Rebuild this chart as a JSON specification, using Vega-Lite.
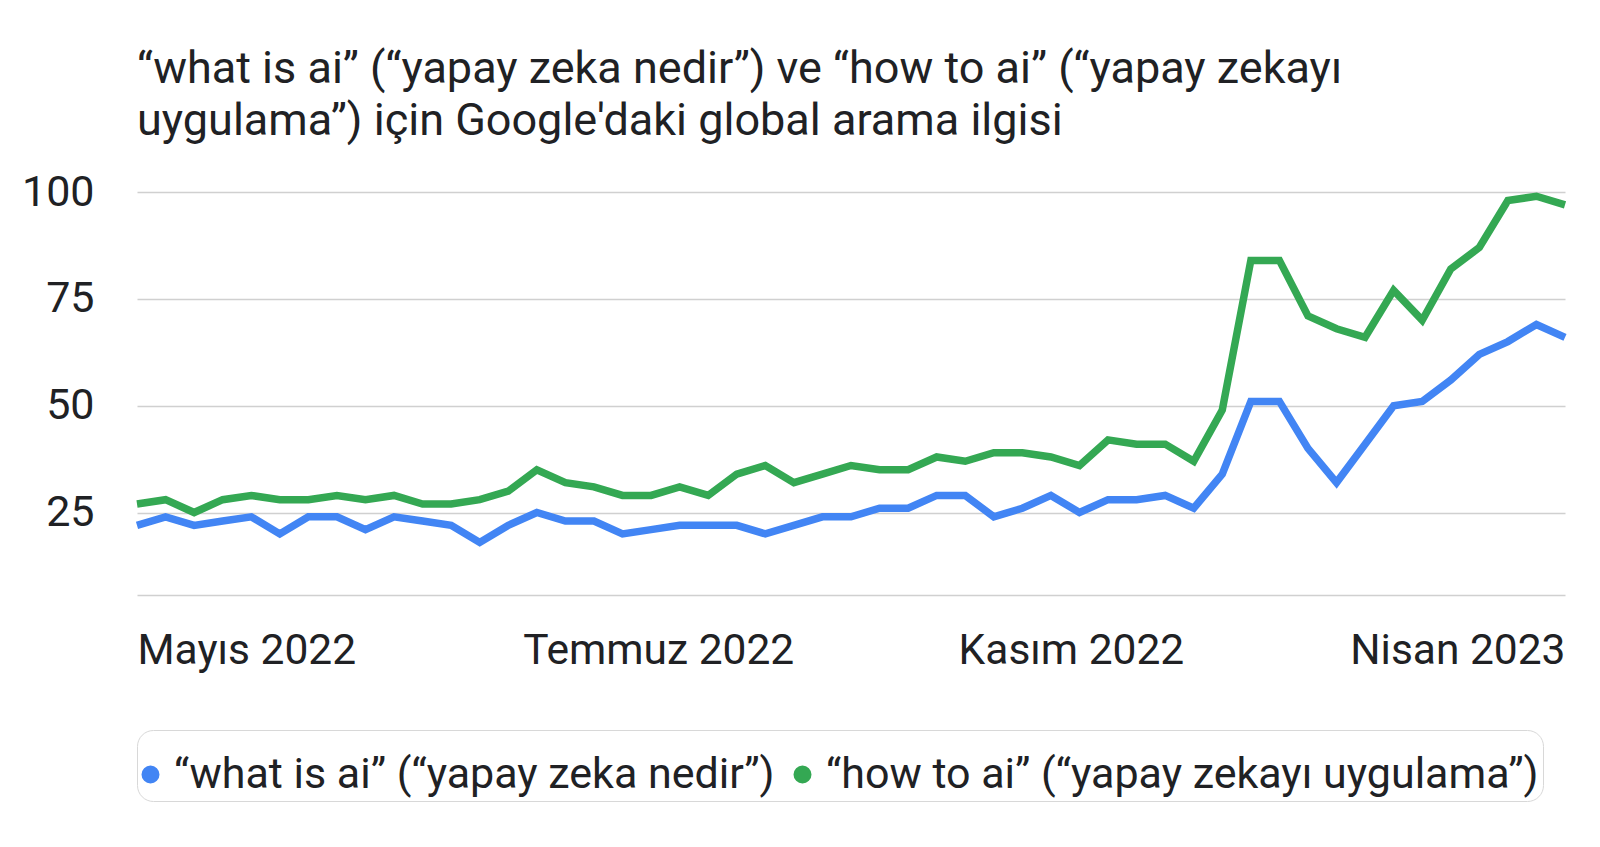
{
  "$schema": "https://vega.github.io/schema/vega-lite/v6.json",
  "autosize": {"type": "none"},
  "width": 1428,
  "height": 403,
  "padding": {"left": 137, "top": 192, "right": 35, "bottom": 252},
  "background": "white",
  "config": {
    "font": "Roboto",
    "view": {"stroke": null}
  },
  "title": {
    "text": ["“what is ai” (“yapay zeka nedir”) ve “how to ai” (“yapay zekayı", "uygulama”) için Google'daki global arama ilgisi"],
    "anchor": "start",
    "frame": "group",
    "font": "Roboto",
    "fontSize": 45,
    "fontWeight": "normal",
    "color": "#202124",
    "lineHeight": 52,
    "baseline": "bottom",
    "offset": -18
  },
  "data": {
    "values": [
      {"hafta": 0, "seri": "“what is ai” (“yapay zeka nedir”)", "ilgi": 22},
      {"hafta": 1, "seri": "“what is ai” (“yapay zeka nedir”)", "ilgi": 24},
      {"hafta": 2, "seri": "“what is ai” (“yapay zeka nedir”)", "ilgi": 22},
      {"hafta": 3, "seri": "“what is ai” (“yapay zeka nedir”)", "ilgi": 23},
      {"hafta": 4, "seri": "“what is ai” (“yapay zeka nedir”)", "ilgi": 24},
      {"hafta": 5, "seri": "“what is ai” (“yapay zeka nedir”)", "ilgi": 20},
      {"hafta": 6, "seri": "“what is ai” (“yapay zeka nedir”)", "ilgi": 24},
      {"hafta": 7, "seri": "“what is ai” (“yapay zeka nedir”)", "ilgi": 24},
      {"hafta": 8, "seri": "“what is ai” (“yapay zeka nedir”)", "ilgi": 21},
      {"hafta": 9, "seri": "“what is ai” (“yapay zeka nedir”)", "ilgi": 24},
      {"hafta": 10, "seri": "“what is ai” (“yapay zeka nedir”)", "ilgi": 23},
      {"hafta": 11, "seri": "“what is ai” (“yapay zeka nedir”)", "ilgi": 22},
      {"hafta": 12, "seri": "“what is ai” (“yapay zeka nedir”)", "ilgi": 18},
      {"hafta": 13, "seri": "“what is ai” (“yapay zeka nedir”)", "ilgi": 22},
      {"hafta": 14, "seri": "“what is ai” (“yapay zeka nedir”)", "ilgi": 25},
      {"hafta": 15, "seri": "“what is ai” (“yapay zeka nedir”)", "ilgi": 23},
      {"hafta": 16, "seri": "“what is ai” (“yapay zeka nedir”)", "ilgi": 23},
      {"hafta": 17, "seri": "“what is ai” (“yapay zeka nedir”)", "ilgi": 20},
      {"hafta": 18, "seri": "“what is ai” (“yapay zeka nedir”)", "ilgi": 21},
      {"hafta": 19, "seri": "“what is ai” (“yapay zeka nedir”)", "ilgi": 22},
      {"hafta": 20, "seri": "“what is ai” (“yapay zeka nedir”)", "ilgi": 22},
      {"hafta": 21, "seri": "“what is ai” (“yapay zeka nedir”)", "ilgi": 22},
      {"hafta": 22, "seri": "“what is ai” (“yapay zeka nedir”)", "ilgi": 20},
      {"hafta": 23, "seri": "“what is ai” (“yapay zeka nedir”)", "ilgi": 22},
      {"hafta": 24, "seri": "“what is ai” (“yapay zeka nedir”)", "ilgi": 24},
      {"hafta": 25, "seri": "“what is ai” (“yapay zeka nedir”)", "ilgi": 24},
      {"hafta": 26, "seri": "“what is ai” (“yapay zeka nedir”)", "ilgi": 26},
      {"hafta": 27, "seri": "“what is ai” (“yapay zeka nedir”)", "ilgi": 26},
      {"hafta": 28, "seri": "“what is ai” (“yapay zeka nedir”)", "ilgi": 29},
      {"hafta": 29, "seri": "“what is ai” (“yapay zeka nedir”)", "ilgi": 29},
      {"hafta": 30, "seri": "“what is ai” (“yapay zeka nedir”)", "ilgi": 24},
      {"hafta": 31, "seri": "“what is ai” (“yapay zeka nedir”)", "ilgi": 26},
      {"hafta": 32, "seri": "“what is ai” (“yapay zeka nedir”)", "ilgi": 29},
      {"hafta": 33, "seri": "“what is ai” (“yapay zeka nedir”)", "ilgi": 25},
      {"hafta": 34, "seri": "“what is ai” (“yapay zeka nedir”)", "ilgi": 28},
      {"hafta": 35, "seri": "“what is ai” (“yapay zeka nedir”)", "ilgi": 28},
      {"hafta": 36, "seri": "“what is ai” (“yapay zeka nedir”)", "ilgi": 29},
      {"hafta": 37, "seri": "“what is ai” (“yapay zeka nedir”)", "ilgi": 26},
      {"hafta": 38, "seri": "“what is ai” (“yapay zeka nedir”)", "ilgi": 34},
      {"hafta": 39, "seri": "“what is ai” (“yapay zeka nedir”)", "ilgi": 51},
      {"hafta": 40, "seri": "“what is ai” (“yapay zeka nedir”)", "ilgi": 51},
      {"hafta": 41, "seri": "“what is ai” (“yapay zeka nedir”)", "ilgi": 40},
      {"hafta": 42, "seri": "“what is ai” (“yapay zeka nedir”)", "ilgi": 32},
      {"hafta": 43, "seri": "“what is ai” (“yapay zeka nedir”)", "ilgi": 41},
      {"hafta": 44, "seri": "“what is ai” (“yapay zeka nedir”)", "ilgi": 50},
      {"hafta": 45, "seri": "“what is ai” (“yapay zeka nedir”)", "ilgi": 51},
      {"hafta": 46, "seri": "“what is ai” (“yapay zeka nedir”)", "ilgi": 56},
      {"hafta": 47, "seri": "“what is ai” (“yapay zeka nedir”)", "ilgi": 62},
      {"hafta": 48, "seri": "“what is ai” (“yapay zeka nedir”)", "ilgi": 65},
      {"hafta": 49, "seri": "“what is ai” (“yapay zeka nedir”)", "ilgi": 69},
      {"hafta": 50, "seri": "“what is ai” (“yapay zeka nedir”)", "ilgi": 66},
      {"hafta": 0, "seri": "“how to ai” (“yapay zekayı uygulama”)", "ilgi": 27},
      {"hafta": 1, "seri": "“how to ai” (“yapay zekayı uygulama”)", "ilgi": 28},
      {"hafta": 2, "seri": "“how to ai” (“yapay zekayı uygulama”)", "ilgi": 25},
      {"hafta": 3, "seri": "“how to ai” (“yapay zekayı uygulama”)", "ilgi": 28},
      {"hafta": 4, "seri": "“how to ai” (“yapay zekayı uygulama”)", "ilgi": 29},
      {"hafta": 5, "seri": "“how to ai” (“yapay zekayı uygulama”)", "ilgi": 28},
      {"hafta": 6, "seri": "“how to ai” (“yapay zekayı uygulama”)", "ilgi": 28},
      {"hafta": 7, "seri": "“how to ai” (“yapay zekayı uygulama”)", "ilgi": 29},
      {"hafta": 8, "seri": "“how to ai” (“yapay zekayı uygulama”)", "ilgi": 28},
      {"hafta": 9, "seri": "“how to ai” (“yapay zekayı uygulama”)", "ilgi": 29},
      {"hafta": 10, "seri": "“how to ai” (“yapay zekayı uygulama”)", "ilgi": 27},
      {"hafta": 11, "seri": "“how to ai” (“yapay zekayı uygulama”)", "ilgi": 27},
      {"hafta": 12, "seri": "“how to ai” (“yapay zekayı uygulama”)", "ilgi": 28},
      {"hafta": 13, "seri": "“how to ai” (“yapay zekayı uygulama”)", "ilgi": 30},
      {"hafta": 14, "seri": "“how to ai” (“yapay zekayı uygulama”)", "ilgi": 35},
      {"hafta": 15, "seri": "“how to ai” (“yapay zekayı uygulama”)", "ilgi": 32},
      {"hafta": 16, "seri": "“how to ai” (“yapay zekayı uygulama”)", "ilgi": 31},
      {"hafta": 17, "seri": "“how to ai” (“yapay zekayı uygulama”)", "ilgi": 29},
      {"hafta": 18, "seri": "“how to ai” (“yapay zekayı uygulama”)", "ilgi": 29},
      {"hafta": 19, "seri": "“how to ai” (“yapay zekayı uygulama”)", "ilgi": 31},
      {"hafta": 20, "seri": "“how to ai” (“yapay zekayı uygulama”)", "ilgi": 29},
      {"hafta": 21, "seri": "“how to ai” (“yapay zekayı uygulama”)", "ilgi": 34},
      {"hafta": 22, "seri": "“how to ai” (“yapay zekayı uygulama”)", "ilgi": 36},
      {"hafta": 23, "seri": "“how to ai” (“yapay zekayı uygulama”)", "ilgi": 32},
      {"hafta": 24, "seri": "“how to ai” (“yapay zekayı uygulama”)", "ilgi": 34},
      {"hafta": 25, "seri": "“how to ai” (“yapay zekayı uygulama”)", "ilgi": 36},
      {"hafta": 26, "seri": "“how to ai” (“yapay zekayı uygulama”)", "ilgi": 35},
      {"hafta": 27, "seri": "“how to ai” (“yapay zekayı uygulama”)", "ilgi": 35},
      {"hafta": 28, "seri": "“how to ai” (“yapay zekayı uygulama”)", "ilgi": 38},
      {"hafta": 29, "seri": "“how to ai” (“yapay zekayı uygulama”)", "ilgi": 37},
      {"hafta": 30, "seri": "“how to ai” (“yapay zekayı uygulama”)", "ilgi": 39},
      {"hafta": 31, "seri": "“how to ai” (“yapay zekayı uygulama”)", "ilgi": 39},
      {"hafta": 32, "seri": "“how to ai” (“yapay zekayı uygulama”)", "ilgi": 38},
      {"hafta": 33, "seri": "“how to ai” (“yapay zekayı uygulama”)", "ilgi": 36},
      {"hafta": 34, "seri": "“how to ai” (“yapay zekayı uygulama”)", "ilgi": 42},
      {"hafta": 35, "seri": "“how to ai” (“yapay zekayı uygulama”)", "ilgi": 41},
      {"hafta": 36, "seri": "“how to ai” (“yapay zekayı uygulama”)", "ilgi": 41},
      {"hafta": 37, "seri": "“how to ai” (“yapay zekayı uygulama”)", "ilgi": 37},
      {"hafta": 38, "seri": "“how to ai” (“yapay zekayı uygulama”)", "ilgi": 49},
      {"hafta": 39, "seri": "“how to ai” (“yapay zekayı uygulama”)", "ilgi": 84},
      {"hafta": 40, "seri": "“how to ai” (“yapay zekayı uygulama”)", "ilgi": 84},
      {"hafta": 41, "seri": "“how to ai” (“yapay zekayı uygulama”)", "ilgi": 71},
      {"hafta": 42, "seri": "“how to ai” (“yapay zekayı uygulama”)", "ilgi": 68},
      {"hafta": 43, "seri": "“how to ai” (“yapay zekayı uygulama”)", "ilgi": 66},
      {"hafta": 44, "seri": "“how to ai” (“yapay zekayı uygulama”)", "ilgi": 77},
      {"hafta": 45, "seri": "“how to ai” (“yapay zekayı uygulama”)", "ilgi": 70},
      {"hafta": 46, "seri": "“how to ai” (“yapay zekayı uygulama”)", "ilgi": 82},
      {"hafta": 47, "seri": "“how to ai” (“yapay zekayı uygulama”)", "ilgi": 87},
      {"hafta": 48, "seri": "“how to ai” (“yapay zekayı uygulama”)", "ilgi": 98},
      {"hafta": 49, "seri": "“how to ai” (“yapay zekayı uygulama”)", "ilgi": 99},
      {"hafta": 50, "seri": "“how to ai” (“yapay zekayı uygulama”)", "ilgi": 97}
    ]
  },
  "mark": {"type": "line", "strokeWidth": 7.5, "strokeJoin": "miter", "strokeCap": "butt"},
  "encoding": {
    "x": {
      "field": "hafta",
      "type": "quantitative",
      "scale": {"domain": [0, 50], "nice": false, "zero": false},
      "axis": {
        "title": null,
        "values": [0, 18.25, 32.7, 50],
        "labelExpr": "datum.value < 1 ? 'Mayıs 2022' : datum.value < 25 ? 'Temmuz 2022' : datum.value < 40 ? 'Kasım 2022' : 'Nisan 2023'",
        "labelFlush": true,
        "labelOverlap": false,
        "labelLimit": 500,
        "labelFont": "Roboto",
        "labelFontSize": 42.5,
        "labelColor": "#202124",
        "labelPadding": 34,
        "ticks": false,
        "grid": false,
        "domain": true,
        "domainColor": "#d0d0d0",
        "domainWidth": 1.5
      }
    },
    "y": {
      "field": "ilgi",
      "type": "quantitative",
      "scale": {"domain": [5.7, 100], "nice": false, "zero": false},
      "axis": {
        "title": null,
        "values": [25, 50, 75, 100],
        "labelFont": "Roboto",
        "labelFontSize": 43,
        "labelColor": "#202124",
        "labelPadding": 43,
        "ticks": false,
        "domain": false,
        "grid": true,
        "gridColor": "#d0d0d0",
        "gridWidth": 1.5
      }
    },
    "color": {
      "field": "seri",
      "type": "nominal",
      "scale": {
        "domain": ["“what is ai” (“yapay zeka nedir”)", "“how to ai” (“yapay zekayı uygulama”)"],
        "range": ["#4285F4", "#34A853"]
      },
      "legend": {
        "title": " ",
        "titleFontSize": 12,
        "titlePadding": 7,
        "orient": "bottom",
        "direction": "horizontal",
        "symbolType": "circle",
        "symbolSize": 81,
        "symbolStrokeWidth": 9,
        "symbolOffset": -12,
        "labelFont": "Roboto",
        "labelFontSize": 43,
        "labelColor": "#202124",
        "labelLimit": 900,
        "labelOffset": 2,
        "columnPadding": 5,
        "strokeColor": "#d8d8d8",
        "cornerRadius": 16,
        "padding": 4,
        "offset": 58
      }
    }
  }
}
